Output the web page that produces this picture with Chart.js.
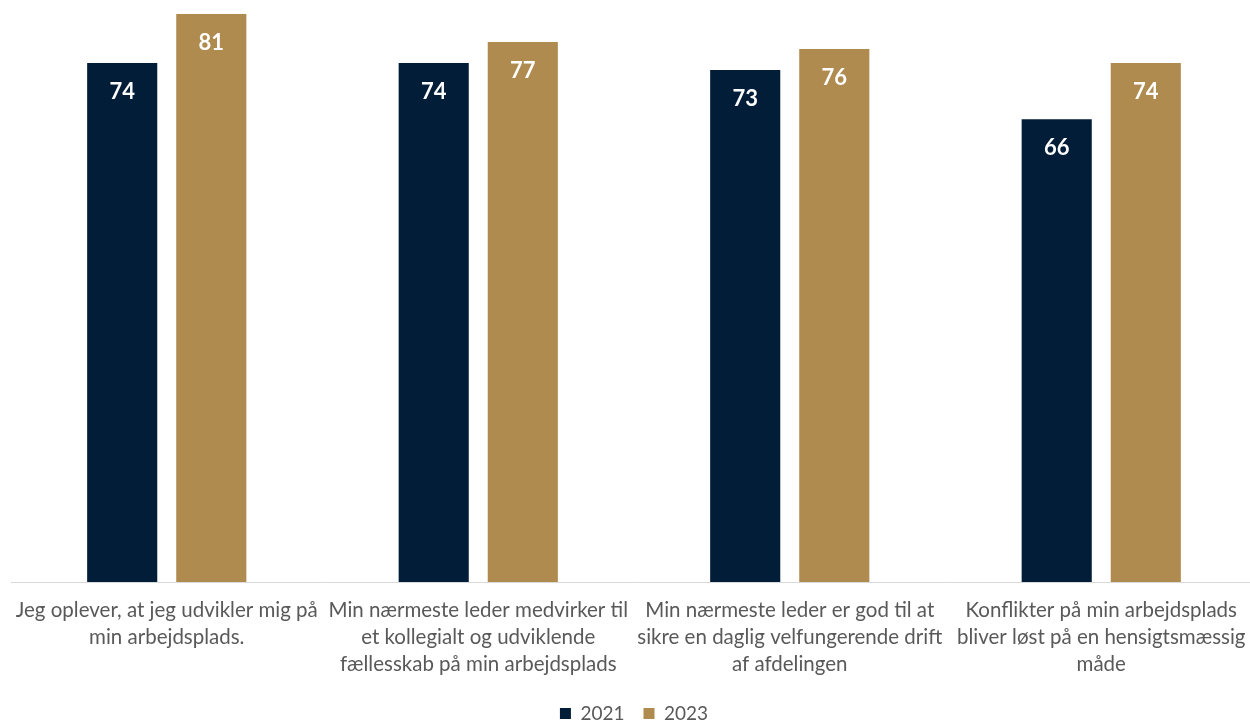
<!DOCTYPE html>
<html>
<head>
<meta charset="utf-8">
<script src="https://cdn.jsdelivr.net/npm/chart.js@4"></script>
<style>
  html,body{margin:0;padding:0;background:#fff;overflow:hidden}
  #wrap{position:absolute;left:0;top:0;width:1257px;height:722px}
</style>
</head>
<body>
<div id="wrap"><canvas id="grafico"></canvas></div>
<script>
const kategorier = [
  ['Jeg oplever, at jeg udvikler mig på', 'min arbejdsplads.'],
  ['Min nærmeste leder medvirker til', 'et kollegialt og udviklende', 'fællesskab på min arbejdsplads'],
  ['Min nærmeste leder er god til at', 'sikre en daglig velfungerende drift', 'af afdelingen'],
  ['Konflikter på min arbejdsplads', 'bliver løst på en hensigtsmæssig', 'måde']
];
const aar = ['2021', '2023'];
const v2021 = [74, 74, 73, 66];
const v2023 = [81, 77, 76, 74];

const NAVY = '#021d38';
const GULD = '#b08b4f';

// hvide tal inde i toppen af hver søjle
const vaerdiTekst = {
  id: 'vaerdiTekst',
  afterDatasetsDraw(chart){
    const ctx = chart.ctx;
    ctx.save();
    ctx.fillStyle = '#fff';
    ctx.font = 'bold 22px Lato';
    ctx.textAlign = 'center';
    ctx.textBaseline = 'middle';
    chart.data.datasets.forEach((ds, i) => {
      chart.getDatasetMeta(i).data.forEach((bar, j) => {
        ctx.fillText(ds.data[j], bar.x, bar.y + 29);
      });
    });
    ctx.restore();
  }
};

// fast højde på legenden, så den ligger tæt ved bunden
const lavLegende = {
  id: 'lavLegende',
  beforeLayout(chart){
    const lg = chart.legend;
    if(!lg || lg._lav) return;
    const fit = lg.fit;
    lg.fit = function(){ fit.call(this); this.height = 37; };
    lg._lav = true;
  }
};

new Chart(grafico, {
  type: 'bar',
  data: {
    labels: kategorier,
    datasets: [
      {label: aar[0], data: v2021, backgroundColor: NAVY},
      {label: aar[1], data: v2023, backgroundColor: GULD}
    ]
  },
  options: {
    responsive: true,
    maintainAspectRatio: false,
    animation: false,
    layout: {padding: {left: 11, right: 0, top: 0, bottom: 0}},
    datasets: {bar: {categoryPercentage: 0.572, barPercentage: 0.787}},
    scales: {
      y: {display: false, min: 0, max: 83},
      x: {
        grid: {display: false, drawTicks: false},
        border: {color: '#d9d9d9', width: 1},
        ticks: {
          color: '#595959',
          font: {family: 'Lato', size: 20.5, lineHeight: '27px'},
          padding: 15,
          maxRotation: 0,
          autoSkip: false
        },
        afterFit(s){
          s.height = 103;
          s.paddingLeft = 0;
          s.paddingRight = 0;
        }
      }
    },
    plugins: {
      tooltip: {enabled: false},
      legend: {
        position: 'bottom',
        labels: {
          boxWidth: 11,
          boxHeight: 11,
          padding: 19,
          color: '#595959',
          font: {family: 'Lato', size: 19}
        }
      }
    }
  },
  plugins: [vaerdiTekst, lavLegende]
});
</script>
</body>
</html>
